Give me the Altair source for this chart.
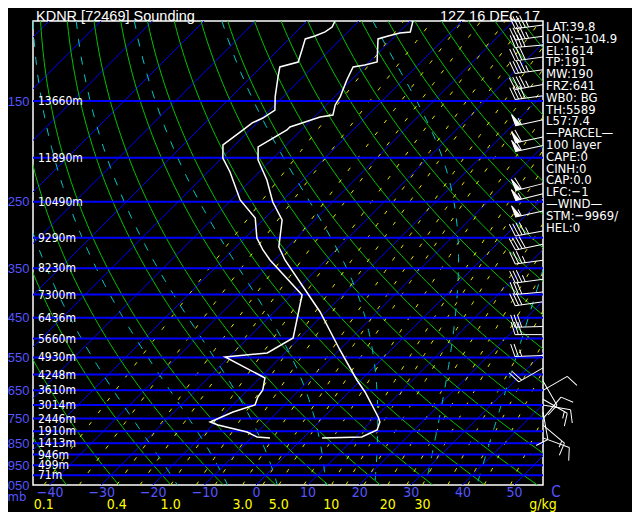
import numpy as np
import pandas as pd
import altair as alt

# ---------------- data ----------------
TITLE = "KDNR [72469] Sounding"
DATE = "12Z 16 DEC 17"

# temperature trace (hPa, degC)
TEMP_P = [100.0, 105.7, 106.3, 107.9, 109.5, 123.1, 125.0, 126.2, 134.8, 146.9,
          153.0, 161.0, 162.6, 171.1, 173.7, 189.3, 202.2, 223.8, 250.2, 274.1,
          314.3, 335.7, 436.9, 529.7, 616.7, 655.3, 743.9, 763.0, 794.6, 823.3, 827.5]
TEMP_T = [-59.5, -57.9, -59.7, -61.4, -62.8, -58.5, -60.3, -62.2, -60.9, -58.9,
          -58.3, -56.8, -58.9, -62.8, -62.8, -65.1, -62.6, -57.0, -51.6, -46.3,
          -41.7, -38.0, -21.1, -9.9, -0.8, 3.1, 10.5, 11.8, 12.8, 11.2, 3.7]

# dewpoint trace (hPa, degC)
DEW_P = [100.0, 103.1, 105.7, 107.9, 109.5, 115.8, 123.1, 126.2, 132.8, 146.9,
         157.0, 163.5, 167.6, 173.7, 187.4, 200.2, 214.9, 247.7, 271.3, 300.3,
         319.1, 335.7, 400.8, 498.4, 537.8, 548.8, 610.5, 648.8, 672.2, 700.0,
         725.3, 763.0, 774.7, 802.7, 823.3, 827.5]
DEW_T = [-74.6, -74.0, -74.4, -75.6, -76.9, -75.4, -73.8, -76.4, -74.8, -71.5,
         -69.0, -69.8, -70.9, -71.3, -72.3, -69.8, -65.7, -58.3, -51.9, -47.7,
         -44.2, -40.9, -27.9, -21.3, -23.4, -30.8, -19.0, -17.1, -16.7, -15.7,
         -18.6, -21.1, -19.0, -12.0, -9.1, -6.4]

# heights of the isobars
HGT_P = [150, 200, 250, 300, 350, 400, 450, 500, 550, 600, 650, 700, 750, 800, 850, 900, 950, 1000]
HGT_M = [13660, 11890, 10490, 9290, 8230, 7300, 6436, 5660, 4930, 4248, 3610, 3014, 2446, 1910, 1413, 946, 499, 71]

# winds (hPa, direction deg, speed kt)
WIND_P = [102, 108, 113, 120, 128, 138, 146, 165, 180, 188, 228, 240, 262, 290, 310,
          336, 370, 395, 415, 470, 490, 545, 580, 620, 650, 680, 700, 725, 750, 775, 827]
WIND_DIR = [262, 262, 265, 262, 262, 260, 262, 258, 258, 258, 256, 256, 258, 260, 258,
            262, 262, 265, 262, 268, 270, 268, 240, 150, 60, 120, 100, 170, 40, 130, 110]
WIND_SPD = [45, 45, 40, 40, 45, 45, 40, 55, 60, 60, 60, 55, 55, 45, 40,
            35, 35, 30, 30, 30, 30, 25, 20, 10, 10, 15, 10, 10, 10, 15, 10]

# background grid of the diagram
ISOBARS = list(range(150, 1001, 50))
ISOTHERMS = list(range(-140, 60, 10))
THETA_C = list(range(-50, 200, 10))            # dry adiabats (degC)
THETAW_C = [-18.3, -8.3, 1.7, 11.5, 21.3, 31.4, 41.5]  # moist adiabats, T at 1000 hPa
MIX_LINES = [0.1, 0.2, 0.4, 0.6, 1, 1.5, 2, 3, 4, 5, 7, 10, 12, 15, 20, 25, 30, 40, 50, 60, 80]
MIX_LABELS = [0.1, 0.4, 1.0, 3.0, 5.0, 10, 20, 30]
MIX_TEXT = ["0.1", "0.4", "1.0", "3.0", "5.0", "10", "20", "30"]
TEMP_TICKS = [-40, -30, -20, -10, 0, 10, 20, 30, 40, 50]
PRESS_TICKS = [150, 250, 350, 450, 550, 650, 750, 850, 950, 1050]

INFO = ["LAT:39.8", "LON:\u2212104.9", "EL:1614", "TP:191", "MW:190", "FRZ:641",
        "WB0: BG", "TH:5589", "L57:7.4", "\u2014PARCEL\u2014", "100 layer", "CAPE:0",
        "CINH:0", "CAP:0.0", "LFC:\u22121", "\u2014WIND\u2014", "STM:\u22129969/", "HEL:0"]

# ---------------- diagram geometry ----------------
P_BOT, P_TOP = 1050.0, 100.0
SKEW = 38.24                     # degC of shift per unit of ln(p)
X_DOM = [-43.22, 55.62]
W, H = 510, 464

BLUE = "#0000ff"
ISOBAR_BLUE = "#0000ff"
LBLUE = "#5555ff"
GREEN = "#00c400"
CYAN = "#00c8c8"
YEL = "#e6e600"
NARROW = "DejaVu Sans Condensed, Liberation Sans, sans-serif"
SANS = "Liberation Sans, Arial, sans-serif"


def skx(t, p):
    return np.asarray(t) + SKEW * np.log(P_BOT / np.asarray(p))


def td_from_w(w, p):
    e = w * p / (622.0 + w)
    lg = np.log(e / 6.112)
    return 243.5 * lg / (17.67 - lg)


def dtdp(p, tk):
    tc = tk - 273.15
    es = 6.112 * np.exp(17.67 * tc / (tc + 243.5))
    rs = 0.622 * es / (p - es)
    lv = 2.501e6
    num = 287.04 * tk + lv * rs
    den = 1005.7 + lv * lv * rs * 0.622 / (287.04 * tk * tk)
    return num / (den * p)


def moist_line(t0):
    out = {}
    for direction, pend in ((-1.0, P_TOP), (1.0, P_BOT)):
        p, tk = 1000.0, t0 + 273.15
        out[p] = tk
        dp = direction * 1.0
        while (p + dp >= pend - 1e-9) if direction < 0 else (p + dp <= pend + 1e-9):
            k1 = dtdp(p, tk)
            k2 = dtdp(p + dp, tk + dp * k1)
            tk = tk + dp * 0.5 * (k1 + k2)
            p = p + dp
            if abs(p % 10) < 1e-6 or abs(p - pend) < 1e-6:
                out[p] = tk
    ps = np.array(sorted(out.keys()))
    ts = np.array([out[k] for k in ps]) - 273.15
    return ps, ts


PGRID = np.geomspace(P_BOT, P_TOP, 90)

rows = []
for t in ISOTHERMS:
    for i, p in enumerate([P_BOT, P_TOP]):
        rows.append({"id": t, "i": i, "p": p, "X": float(skx(t, p))})
iso_df = pd.DataFrame(rows)

rows = []
for th in THETA_C:
    tt = (th + 273.15) * (PGRID / 1000.0) ** 0.2857 - 273.15
    for i, (p, t) in enumerate(zip(PGRID, tt)):
        rows.append({"id": th, "i": i, "p": float(p), "X": float(skx(t, p))})
dry_df = pd.DataFrame(rows)

rows = []
for tw in THETAW_C:
    ps, ts = moist_line(tw)
    for i, (p, t) in enumerate(zip(ps, ts)):
        rows.append({"id": tw, "i": i, "p": float(p), "X": float(skx(t, p))})
moist_df = pd.DataFrame(rows)

rows = []
for w in MIX_LINES:
    tt = td_from_w(w, PGRID)
    for i, (p, t) in enumerate(zip(PGRID, tt)):
        rows.append({"id": w, "i": i, "p": float(p), "X": float(skx(t, p))})
mix_df = pd.DataFrame(rows)

mixlab_df = pd.DataFrame({"lab": MIX_TEXT,
                          "X": [float(skx(td_from_w(w, P_BOT), P_BOT)) for w in MIX_LABELS]})

temp_df = pd.DataFrame({"i": range(len(TEMP_P)), "p": TEMP_P, "X": skx(TEMP_T, TEMP_P)})
dew_df = pd.DataFrame({"i": range(len(DEW_P)), "p": DEW_P, "X": skx(DEW_T, DEW_P)})
hgt_df = pd.DataFrame({"p": HGT_P, "lab": [f"{h}m" for h in HGT_M]})
bar_df = pd.DataFrame({"p": ISOBARS})


def barb_path(spd):
    parts = ["M0,0L0,-1"]
    a = -1.0
    s = int(round(spd / 5.0) * 5)
    n50 = s // 50
    s -= 50 * n50
    n10 = s // 10
    s -= 10 * n10
    n5 = s // 5
    for _ in range(n50):
        parts.append(f"M0,{a:.2f}L0.42,{a - 0.06:.2f}L0,{a + 0.17:.2f}Z")
        a += 0.21
    for _ in range(n10):
        parts.append(f"M0,{a:.2f}L0.45,{a - 0.14:.2f}")
        a += 0.12
    if n5:
        if a == -1.0:
            a += 0.12
        parts.append(f"M0,{a:.2f}L0.24,{a - 0.07:.2f}")
    return "".join(parts)


wind_df = pd.DataFrame({"p": WIND_P, "dir": WIND_DIR,
                        "path": [barb_path(s) for s in WIND_SPD]})

# ---------------- encodings ----------------
XAXIS = alt.Axis(values=TEMP_TICKS, format="d", labelColor=LBLUE, labelFont=NARROW,
                 labelFontSize=14, labelBaseline="middle", labelPadding=7, ticks=False,
                 tickSize=0, domain=False, grid=False, title=None, labelFlush=False,
                 labelOverlap=False, labelBound=False)
YAXIS = alt.Axis(values=PRESS_TICKS, format="d", labelColor=LBLUE, labelFont=SANS,
                 labelFontSize=13, labelBaseline="middle", labelPadding=4, ticks=False,
                 tickSize=0, domain=False, grid=False, title=None, labelFlush=False,
                 labelOverlap=False, labelBound=False)


def ex(field="X"):
    return alt.X(f"{field}:Q", scale=alt.Scale(domain=X_DOM, nice=False, zero=False), axis=XAXIS)


def ey(field="p"):
    return alt.Y(f"{field}:Q", scale=alt.Scale(type="log", domain=[P_TOP, P_BOT], reverse=True,
                                               nice=False), axis=YAXIS)


def grid_lines(df, color, dash=None, width=1.0):
    kw = dict(clip=True, color=color, strokeWidth=width)
    if dash:
        kw["strokeDash"] = dash
    return alt.Chart(df).mark_line(**kw).encode(
        x=ex(), y=ey(), detail="id:N", order="i:Q")


isotherms = grid_lines(iso_df, BLUE, width=1)
dry = grid_lines(dry_df, GREEN, width=1)
mixing = grid_lines(mix_df, YEL, dash=[4, 11], width=1)
moist = grid_lines(moist_df, CYAN, dash=[8, 10], width=1)

isobars = alt.Chart(bar_df).mark_rule(color=ISOBAR_BLUE, strokeWidth=2).encode(y=ey())

temp_line = alt.Chart(temp_df).mark_line(color="white", strokeWidth=1.5, clip=True).encode(
    x=ex(), y=ey(), order="i:Q")
dew_line = alt.Chart(dew_df).mark_line(color="white", strokeWidth=1.5, clip=True).encode(
    x=ex(), y=ey(), order="i:Q")

hgt_text = alt.Chart(hgt_df).mark_text(align="left", baseline="middle", color="white",
                                       font=NARROW, fontSize=12).encode(
    x=alt.value(5), y=ey(), text="lab:N")

barbs = alt.Chart(wind_df).mark_point(filled=True, size=3136, fill="white", stroke="white",
                                      strokeWidth=1, opacity=1, fillOpacity=1).encode(
    x=alt.value(W), y=ey(), shape=alt.Shape("path:N", scale=None, legend=None),
    angle=alt.Angle("dir:Q", scale=None))

mixlab = alt.Chart(mixlab_df).mark_text(align="center", baseline="alphabetic", color="#ffff00",
                                        font=NARROW, fontSize=14).encode(
    x=ex(), y=alt.value(H + 24), text="lab:N")

one = pd.DataFrame({"a": [0]})


def label(text, x, y, color="white", size=13, align="left", font=NARROW, baseline="alphabetic", **kw):
    return alt.Chart(one).mark_text(text=text, align=align, baseline=baseline, color=color,
                                    fontSize=size, font=font, **kw).encode(
        x=alt.value(x), y=alt.value(y))


title = label(TITLE, 3, 0, size=14.5, font=SANS)
date = label(DATE, 507, 0, size=14.5, font=SANS, align="right")
info = label("\n".join(INFO), 513, 10, size=13, lineBreak="\n", lineHeight=11.8)
mb = label("mb", -16, 480, color=LBLUE, size=13, align="center")
cdeg = label("C", 523, 476, color=LBLUE, size=15, align="center")
gkg = label("g/kg", 510, 488, color="#ffff00", size=14, align="center")

chart = alt.layer(
    isotherms, dry, mixing, moist, isobars, temp_line, dew_line, hgt_text, barbs,
    mixlab, title, date, info, mb, cdeg, gkg
).properties(
    width=W, height=H,
    padding={"left": 25, "top": 13, "right": 89, "bottom": 27},
    autosize=alt.AutoSizeParams(type="none"),
    background="black",
).configure_view(stroke="white", strokeWidth=1.5, fill="black")

chart.save("out.html", embed_options={"renderer": "svg", "actions": False})
